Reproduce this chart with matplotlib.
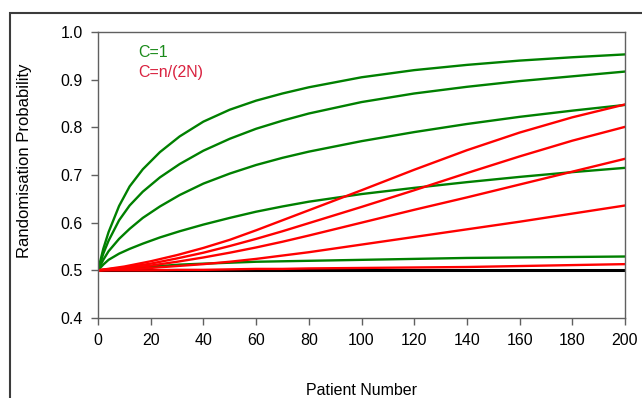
import matplotlib.pyplot as plt
from matplotlib.patches import Rectangle

plt.rcParams['font.family'] = ['Liberation Sans', 'DejaVu Sans']

# patient numbers at which the curves were sampled
x_green = [0, 2, 4, 8, 12, 17, 23.5, 31, 40, 50, 60, 70, 80, 100, 120, 140, 160, 180, 200]
x_red = [0, 10, 20, 30, 40, 50, 60, 70, 80, 100, 120, 140, 160, 180, 200]

# C = 1
g1 = [0.5, 0.545, 0.58, 0.635, 0.676, 0.712, 0.748, 0.781, 0.812, 0.837, 0.856, 0.871, 0.884, 0.905, 0.92, 0.931, 0.94, 0.947, 0.953]
g2 = [0.5, 0.535, 0.562, 0.605, 0.636, 0.665, 0.695, 0.723, 0.751, 0.776, 0.797, 0.814, 0.829, 0.853, 0.871, 0.885, 0.897, 0.907, 0.917]
g3 = [0.5, 0.522, 0.54, 0.566, 0.587, 0.61, 0.634, 0.658, 0.682, 0.703, 0.721, 0.736, 0.749, 0.771, 0.79, 0.807, 0.822, 0.835, 0.847]
g4 = [0.5, 0.512, 0.522, 0.535, 0.545, 0.556, 0.569, 0.582, 0.596, 0.61, 0.623, 0.634, 0.644, 0.66, 0.673, 0.685, 0.696, 0.706, 0.715]
g5 = [0.5, 0.501, 0.502, 0.504, 0.505, 0.507, 0.509, 0.512, 0.514, 0.516, 0.518, 0.519, 0.52, 0.522, 0.524, 0.526, 0.527, 0.528, 0.529]

# C = n/(2N)
r1 = [0.5, 0.508, 0.519, 0.532, 0.547, 0.564, 0.584, 0.605, 0.626, 0.668, 0.711, 0.752, 0.789, 0.821, 0.848]
r2 = [0.5, 0.506, 0.514, 0.525, 0.537, 0.551, 0.566, 0.582, 0.599, 0.633, 0.668, 0.704, 0.739, 0.772, 0.801]
r3 = [0.5, 0.504, 0.51, 0.518, 0.527, 0.537, 0.548, 0.56, 0.573, 0.6, 0.627, 0.653, 0.68, 0.707, 0.734]
r4 = [0.5, 0.502, 0.505, 0.509, 0.513, 0.518, 0.524, 0.531, 0.538, 0.554, 0.57, 0.586, 0.602, 0.619, 0.636]
r5 = [0.5, 0.5, 0.5, 0.501, 0.501, 0.502, 0.503, 0.503, 0.504, 0.505, 0.506, 0.507, 0.509, 0.511, 0.513]

# equal randomisation
x_equal = [0, 200]
equal = [0.5, 0.5]

fig = plt.figure(figsize=(6.42, 3.98), dpi=100)
ax = fig.add_axes([98 / 642, 80 / 398, 527 / 642, 286 / 398])

# outer chart border
fig.patches.append(Rectangle((10 / 642, -0.1), 1.1, 1.1 - 13 / 398,
                             transform=fig.transFigure, fill=False,
                             edgecolor='#3c3c3c', linewidth=1.5))

ax.plot(x_equal, equal, color='black', lw=2.2)
for y in [g5, g4, g3, g2, g1]:
    ax.plot(x_green, y, color='#008000', lw=1.7)
for y in [r5, r4, r3, r2, r1]:
    ax.plot(x_red, y, color='#ff0000', lw=1.7)

ax.set_xlim(0, 200)
ax.set_ylim(0.4, 1.0)
ax.set_xticks(range(0, 201, 20))
ax.set_yticks([0.4, 0.5, 0.6, 0.7, 0.8, 0.9, 1.0])
ax.set_yticklabels(['0.4', '0.5', '0.6', '0.7', '0.8', '0.9', '1.0'])
ax.tick_params(direction='out', length=5, width=1, color='#606060',
               labelsize=11.5, pad=6)
for s in ax.spines.values():
    s.set_color('#606060')
    s.set_linewidth(1)

ax.set_xlabel('Patient Number', fontsize=11.5)
ax.set_ylabel('Randomisation Probability', fontsize=12)
ax.xaxis.set_label_coords(0.5, -0.228)
ax.yaxis.set_label_coords(-0.125, 0.55)

ax.text(0.076, 0.93, 'C=1', color='#1a8a1a', fontsize=11.5,
        transform=ax.transAxes, va='center', ha='left')
ax.text(0.076, 0.86, 'C=n/(2N)', color='#d9213f', fontsize=11.5,
        transform=ax.transAxes, va='center', ha='left')

fig.savefig('out.png', dpi=100)
